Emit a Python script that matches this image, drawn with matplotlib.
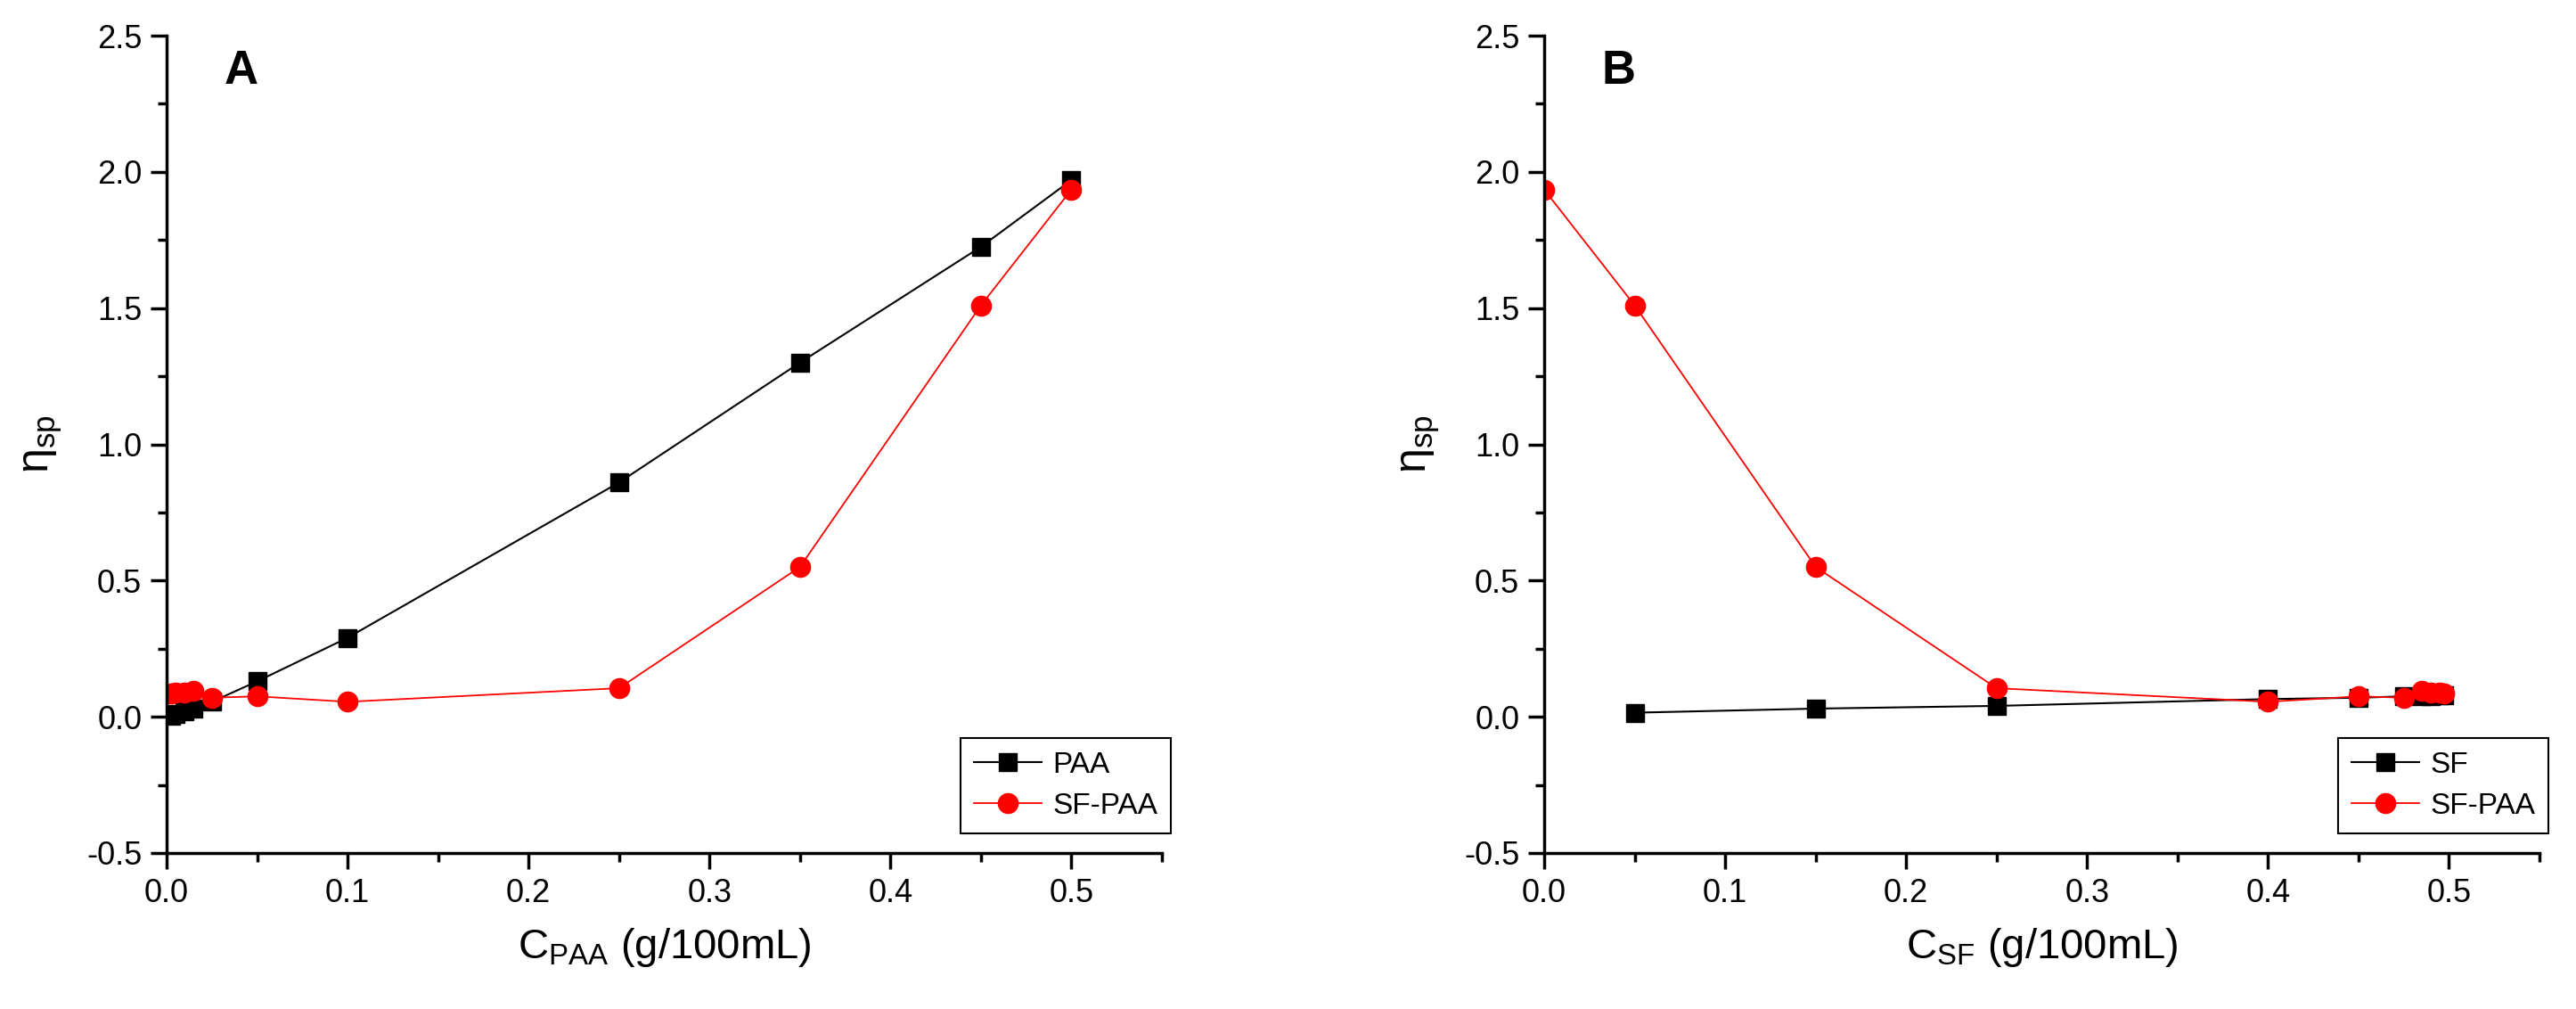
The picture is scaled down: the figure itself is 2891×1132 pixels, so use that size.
import numpy as np
import matplotlib
matplotlib.use('Agg')
import matplotlib.pyplot as plt

plt.rcParams['font.family'] = ['Liberation Sans', 'DejaVu Sans']
plt.rcParams['mathtext.fontset'] = 'custom'
plt.rcParams['mathtext.rm'] = 'Liberation Sans'
plt.rcParams['mathtext.it'] = 'Liberation Sans:italic'

# panel A : viscosity vs PAA concentration
c_paa = [0.0025, 0.005, 0.01, 0.015, 0.025, 0.05, 0.1, 0.25, 0.35, 0.45, 0.5]
eta_paa = [0.005, 0.01, 0.02, 0.03, 0.055, 0.13, 0.29, 0.86, 1.30, 1.725, 1.97]
eta_mix_a = [0.085, 0.09, 0.09, 0.095, 0.07, 0.075, 0.055, 0.105, 0.55, 1.51, 1.935]

# panel B : viscosity vs SF concentration
c_sf = [0.05, 0.15, 0.25, 0.4, 0.45, 0.475, 0.485, 0.49, 0.495, 0.4975]
eta_sf = [0.015, 0.03, 0.04, 0.065, 0.07, 0.075, 0.075, 0.075, 0.08, 0.08]
c_sf_mix = [0.0, 0.05, 0.15, 0.25, 0.4, 0.45, 0.475, 0.485, 0.49, 0.495, 0.4975]
eta_mix_b = [1.935, 1.51, 0.55, 0.105, 0.055, 0.075, 0.07, 0.095, 0.09, 0.09, 0.085]

W, H = 2891, 1132
fig = plt.figure(figsize=(W / 100, H / 100), dpi=100)

def setup(ax, letter, xlab, black_x, black_y, black_lab, red_x, red_y):
  ax.plot(black_x, black_y, '-s', color='black', lw=1.5, ms=14, label=black_lab)
  ax.plot(red_x, red_y, '-o', color='#ff0000', lw=1.3, ms=16, label='SF-PAA')
  ax.set_xlim(0, 0.55)
  ax.set_ylim(-0.5, 2.5)
  ax.set_xticks(np.arange(0, 0.51, 0.1))
  ax.set_xticks(np.arange(0.05, 0.56, 0.1), minor=True)
  ax.set_yticks(np.arange(-0.5, 2.51, 0.5))
  ax.set_yticks(np.arange(-0.25, 2.5, 0.5), minor=True)
  ax.set_yticklabels(['-0.5', '0.0', '0.5', '1.0', '1.5', '2.0', '2.5'])
  for s in ['top', 'right']:
    ax.spines[s].set_visible(False)
  for s in ['left', 'bottom']:
    ax.spines[s].set_linewidth(2.5)
  ax.tick_params(which='major', direction='out', length=13, width=2.5,
                 labelsize=26, pad=7)
  ax.tick_params(which='minor', direction='out', length=7, width=2.5)
  ax.set_xlabel(xlab, fontsize=34, labelpad=14)
  ax.set_ylabel(r'$\mathregular{η_{sp}}$', fontsize=36, labelpad=18)
  ax.text(0.041, 2.37, letter, fontsize=38, fontweight='bold',
          ha='center', va='center')
  # legend top edge sits just below zero
  leg = ax.legend(loc='upper right', bbox_to_anchor=(1.009, (0.5 - 0.078) / 3),
                  borderaxespad=0, fontsize=24, fancybox=False, framealpha=1,
                  edgecolor='black', borderpad=0.45, handlelength=2.3,
                  labelspacing=0.45, handletextpad=0.35)
  leg.get_frame().set_linewidth(1.5)

axA = fig.add_axes([187 / W, 1 - 957 / H, 1117 / W, 917 / H])
setup(axA, 'A', r'C$_{\mathregular{PAA}}$ (g/100mL)',
      c_paa, eta_paa, 'PAA', c_paa, eta_mix_a)

axB = fig.add_axes([1733 / W, 1 - 957 / H, 1117 / W, 917 / H])
setup(axB, 'B', r'C$_{\mathregular{SF}}$ (g/100mL)',
      c_sf, eta_sf, 'SF', c_sf_mix, eta_mix_b)

fig.savefig('out.png', dpi=100)
